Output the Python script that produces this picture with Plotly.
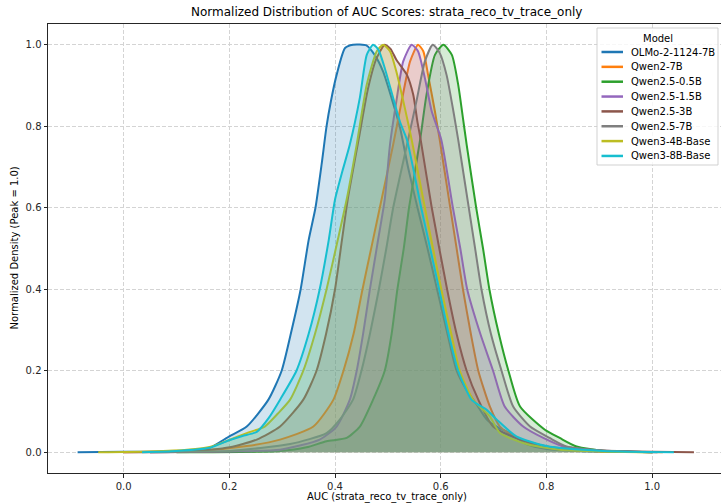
import plotly.graph_objects as go

# ---- data: normalized KDE curves of AUC scores (peak scaled to 1.0) ----
models = ["OLMo-2-1124-7B", "Qwen2-7B", "Qwen2.5-0.5B", "Qwen2.5-1.5B",
          "Qwen2.5-3B", "Qwen2.5-7B", "Qwen3-4B-Base", "Qwen3-8B-Base"]
colors = ["#1f77b4", "#ff7f0e", "#2ca02c", "#9467bd",
          "#8c564b", "#7f7f7f", "#bcbd22", "#17becf"]

olmo2_7b_x = [-0.087, 0.00, 0.08, 0.13, 0.163, 0.20, 0.233, 0.274, 0.299, 0.318, 0.335, 0.350,
              0.363, 0.375, 0.384, 0.392, 0.403, 0.419, 0.434, 0.460, 0.475, 0.491, 0.507, 0.523,
              0.538, 0.556, 0.575, 0.593, 0.611, 0.630, 0.650, 0.668, 0.687, 0.710, 0.731, 0.762,
              0.80, 0.86, 0.95, 1.01]
olmo2_7b_y = [0.0, 0.001, 0.002, 0.005, 0.011, 0.039, 0.063, 0.129, 0.20, 0.30, 0.40, 0.52,
              0.60, 0.71, 0.80, 0.86, 0.926, 0.992, 1.0, 0.998, 0.975, 0.934, 0.869, 0.796,
              0.70, 0.60, 0.50, 0.40, 0.30, 0.20, 0.15, 0.117, 0.08, 0.06, 0.047, 0.02,
              0.008, 0.003, 0.001, 0.0]

qwen2_7b_x = [0.0, 0.15, 0.233, 0.296, 0.359, 0.397, 0.416, 0.435, 0.452, 0.470, 0.488, 0.510,
              0.526, 0.542, 0.557, 0.567, 0.576, 0.589, 0.598, 0.618, 0.630, 0.642, 0.657, 0.671,
              0.693, 0.712, 0.743, 0.788, 0.85, 0.95, 1.02]
qwen2_7b_y = [0.0, 0.004, 0.015, 0.031, 0.063, 0.129, 0.20, 0.29, 0.40, 0.51, 0.62, 0.755,
              0.861, 0.959, 1.0, 0.984, 0.926, 0.836, 0.767, 0.60, 0.50, 0.40, 0.29, 0.20,
              0.112, 0.063, 0.035, 0.014, 0.005, 0.001, 0.0]

qwen25_05b_x = [0.10, 0.296, 0.346, 0.384, 0.422, 0.447, 0.472, 0.494, 0.507, 0.518, 0.530, 0.540,
                0.561, 0.573, 0.589, 0.605, 0.621, 0.633, 0.642, 0.649, 0.667, 0.680, 0.692, 0.710,
                0.728, 0.750, 0.797, 0.825, 0.857, 0.914, 1.0]
qwen25_05b_y = [0.0, 0.003, 0.012, 0.027, 0.035, 0.063, 0.129, 0.20, 0.29, 0.40, 0.50, 0.60,
                0.767, 0.877, 0.975, 1.0, 0.975, 0.902, 0.820, 0.755, 0.60, 0.50, 0.40, 0.29,
                0.20, 0.112, 0.055, 0.035, 0.014, 0.003, 0.0]

qwen25_15b_x = [0.05, 0.20, 0.296, 0.371, 0.403, 0.428, 0.441, 0.453, 0.466, 0.480, 0.494, 0.504,
                0.516, 0.529, 0.545, 0.557, 0.570, 0.583, 0.601, 0.623, 0.637, 0.650, 0.675, 0.699,
                0.721, 0.756, 0.794, 0.832, 0.90, 1.0]
qwen25_15b_y = [0.0, 0.002, 0.006, 0.031, 0.063, 0.129, 0.20, 0.29, 0.40, 0.51, 0.62, 0.755,
                0.861, 0.959, 1.0, 0.984, 0.918, 0.836, 0.767, 0.60, 0.50, 0.40, 0.29, 0.20,
                0.112, 0.063, 0.035, 0.014, 0.004, 0.0]

qwen25_3b_x = [0.0, 0.12, 0.201, 0.252, 0.296, 0.340, 0.365, 0.383, 0.400, 0.413, 0.424, 0.445,
               0.462, 0.478, 0.494, 0.505, 0.516, 0.536, 0.548, 0.556, 0.562, 0.583, 0.612, 0.630,
               0.649, 0.671, 0.699, 0.750, 0.812, 0.90, 1.0, 1.079]
qwen25_3b_y = [0.0, 0.002, 0.012, 0.031, 0.063, 0.129, 0.20, 0.29, 0.40, 0.52, 0.62, 0.77,
               0.89, 0.965, 1.0, 0.99, 0.963, 0.926, 0.877, 0.81, 0.767, 0.60, 0.40, 0.29,
               0.20, 0.129, 0.063, 0.031, 0.012, 0.004, 0.001, 0.0]

qwen25_7b_x = [0.05, 0.20, 0.315, 0.384, 0.409, 0.434, 0.450, 0.466, 0.483, 0.497, 0.510, 0.537,
               0.554, 0.570, 0.585, 0.598, 0.611, 0.624, 0.633, 0.653, 0.665, 0.677, 0.695, 0.715,
               0.737, 0.769, 0.806, 0.838, 0.90, 1.0]
qwen25_7b_y = [0.0, 0.003, 0.02, 0.047, 0.08, 0.129, 0.20, 0.29, 0.40, 0.50, 0.60, 0.76,
               0.861, 0.959, 1.0, 0.980, 0.926, 0.836, 0.767, 0.60, 0.50, 0.40, 0.29, 0.20,
               0.112, 0.063, 0.035, 0.014, 0.005, 0.0]

qwen3_4b_x = [-0.048, 0.05, 0.12, 0.169, 0.20, 0.233, 0.267, 0.292, 0.315, 0.340, 0.362, 0.384,
              0.405, 0.422, 0.441, 0.460, 0.479, 0.491, 0.504, 0.516, 0.532, 0.545, 0.570, 0.601,
              0.620, 0.636, 0.661, 0.693, 0.712, 0.762, 0.825, 0.90, 1.0]
qwen3_4b_y = [0.0, 0.002, 0.006, 0.015, 0.03, 0.047, 0.063, 0.095, 0.129, 0.20, 0.29, 0.40,
              0.52, 0.62, 0.755, 0.902, 0.984, 1.0, 0.984, 0.934, 0.845, 0.767, 0.60, 0.40,
              0.29, 0.20, 0.129, 0.088, 0.047, 0.02, 0.006, 0.002, 0.0]

qwen3_8b_x = [0.035, 0.10, 0.163, 0.201, 0.225, 0.252, 0.275, 0.296, 0.327, 0.350, 0.371, 0.388,
              0.400, 0.414, 0.428, 0.447, 0.460, 0.472, 0.482, 0.494, 0.510, 0.523, 0.536, 0.563,
              0.580, 0.597, 0.615, 0.633, 0.658, 0.673, 0.687, 0.706, 0.743, 0.80, 0.907, 1.041]
qwen3_8b_y = [0.0, 0.003, 0.011, 0.03, 0.04, 0.05, 0.085, 0.129, 0.20, 0.29, 0.40, 0.52,
              0.62, 0.69, 0.755, 0.87, 0.975, 1.0, 0.988, 0.943, 0.869, 0.81, 0.767, 0.60,
              0.50, 0.40, 0.29, 0.20, 0.129, 0.115, 0.104, 0.08, 0.039, 0.015, 0.003, 0.0]

series_x = [olmo2_7b_x, qwen2_7b_x, qwen25_05b_x, qwen25_15b_x,
            qwen25_3b_x, qwen25_7b_x, qwen3_4b_x, qwen3_8b_x]
series_y = [olmo2_7b_y, qwen2_7b_y, qwen25_05b_y, qwen25_15b_y,
            qwen25_3b_y, qwen25_7b_y, qwen3_4b_y, qwen3_8b_y]

tick_vals = [0.0, 0.2, 0.4, 0.6, 0.8, 1.0]
tick_text = ["0.0", "0.2", "0.4", "0.6", "0.8", "1.0"]

title_text = "Normalized Distribution of AUC Scores: strata_reco_tv_trace_only"
x_label = "AUC (strata_reco_tv_trace_only)"
y_label = "Normalized Density (Peak = 1.0)"
legend_title = "Model"

# ---- figure geometry (pixels) ----
W, H = 721, 504
ML, MR, MT, MB = 48, 0, 24, 31
PW, PH = W - ML - MR, H - MT - MB
FONT = "DejaVu Sans"


def px_x(px):
    return (px - ML) / PW


def px_y(py):
    return (H - MB - py) / PH


def rgba(hex_color, a):
    h = hex_color.lstrip("#")
    r, g, b = int(h[0:2], 16), int(h[2:4], 16), int(h[4:6], 16)
    return f"rgba({r},{g},{b},{a})"


fig = go.Figure()
for name, color, xs, ys in zip(models, colors, series_x, series_y):
    fig.add_trace(go.Scatter(
        x=xs, y=ys, name=name, mode="lines",
        line=dict(color=color, width=2, shape="spline", smoothing=0.6),
        fill="tozeroy", fillcolor=rgba(color, 0.2),
        showlegend=False,
    ))

axis_common = dict(
    showgrid=True, gridcolor="#d4d4d4", gridwidth=0.8, griddash="4px,2px",
    zeroline=False, showline=True, linecolor="#262626", linewidth=1,
    ticks="outside", ticklen=3.5, tickwidth=0.8, tickcolor="#262626",
    tickfont=dict(family=FONT, size=10, color="#262626"),
)

fig.update_layout(
    width=W, height=H, autosize=False,
    margin=dict(l=ML, r=MR, t=MT, b=MB, pad=0),
    paper_bgcolor="white", plot_bgcolor="white",
    font=dict(family=FONT, size=10, color="#000000"),
    showlegend=False,
    xaxis=dict(range=[-0.143, -0.143 + PW / 528.6], tickvals=tick_vals, ticktext=tick_text,
               mirror=True, **axis_common),
    yaxis=dict(range=[-0.051, -0.051 + PH / 407.5], tickvals=tick_vals, ticktext=tick_text,
               mirror=False, **axis_common),
)

annotations = [
    dict(text=title_text, x=px_x(386.5), y=px_y(12), xref="paper", yref="paper",
         showarrow=False, xanchor="center", yanchor="middle",
         font=dict(family=FONT, size=12, color="#000000")),
    dict(text=x_label, x=px_x(386.5), y=px_y(497), xref="paper", yref="paper",
         showarrow=False, xanchor="center", yanchor="middle",
         font=dict(family=FONT, size=10, color="#000000")),
    dict(text=y_label, x=px_x(14), y=px_y(248.5), xref="paper", yref="paper",
         showarrow=False, xanchor="center", yanchor="middle", textangle=-90,
         font=dict(family=FONT, size=10, color="#000000")),
]

# legend box drawn on top of the plot area
shapes = [dict(type="rect", xref="paper", yref="paper",
               x0=px_x(597), x1=px_x(718), y0=px_y(165), y1=px_y(28),
               line=dict(color="rgba(204,204,204,0.9)", width=1),
               fillcolor="rgba(255,255,255,0.8)", layer="above")]
annotations.append(dict(text=legend_title, x=px_x(657.5), y=px_y(38.5),
                        xref="paper", yref="paper", showarrow=False,
                        xanchor="center", yanchor="middle",
                        font=dict(family=FONT, size=10, color="#000000")))
for i, (name, color) in enumerate(zip(models, colors)):
    row_y = 52.0 + i * 14.85
    shapes.append(dict(type="line", xref="paper", yref="paper",
                       x0=px_x(601.5), x1=px_x(623), y0=px_y(row_y), y1=px_y(row_y),
                       line=dict(color=color, width=2.5), layer="above"))
    annotations.append(dict(text=name, x=px_x(629), y=px_y(row_y),
                            xref="paper", yref="paper", showarrow=False,
                            xanchor="left", yanchor="middle",
                            font=dict(family=FONT, size=10, color="#000000")))

fig.update_layout(shapes=shapes, annotations=annotations)
fig.write_html("out.html")
